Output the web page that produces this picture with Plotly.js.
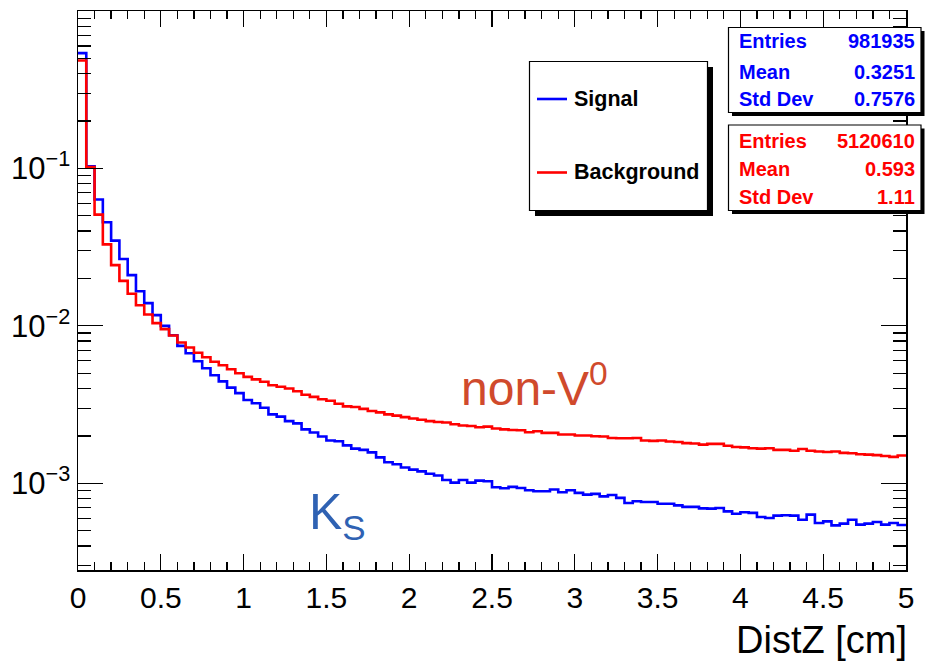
<!DOCTYPE html>
<html>
<head>
<meta charset="utf-8">
<script src="https://cdn.plot.ly/plotly-3.0.1.min.js"></script>
<style>
  html, body { margin: 0; padding: 0; background: #ffffff; }
  #plot { width: 934px; height: 666px; }
</style>
</head>
<body>
<div id="plot"></div>
<script>
// DistZ histograms: 100 bins from 0 to 5 cm, normalised entries per bin
const nBins = 100;
const xMin = 0;
const xMax = 5;

const signalCounts = [
  0.54, 0.103, 0.0635, 0.0455, 0.0348, 0.0266, 0.0210, 0.0166, 0.01395, 0.0117,
  0.0100, 0.00872, 0.00746, 0.00670, 0.00596, 0.00538, 0.00485, 0.00444, 0.00405, 0.00374,
  0.00338, 0.00322, 0.00302, 0.00274, 0.00265, 0.00248, 0.00240, 0.00220, 0.00210, 0.00198,
  0.00187, 0.00185, 0.00174, 0.00166, 0.00163, 0.00157, 0.00146, 0.00136, 0.00132, 0.00126,
  0.00122, 0.00119, 0.00115, 0.00112, 0.00105, 0.00101, 0.00105, 0.00101, 0.00104, 0.00103,
  0.000943, 0.000929, 0.000948, 0.000934, 0.000902, 0.000889, 0.000889, 0.000912, 0.000876, 0.000902,
  0.000869, 0.000847, 0.000856, 0.000826, 0.000843, 0.000807, 0.000750, 0.000768, 0.000761, 0.000761,
  0.000741, 0.000741, 0.000724, 0.000708, 0.000708, 0.000693, 0.000690, 0.000697, 0.000663, 0.000640,
  0.000654, 0.000648, 0.000611, 0.000602, 0.000623, 0.000627, 0.000623, 0.000587, 0.000632, 0.000559,
  0.000573, 0.000540, 0.000554, 0.000587, 0.000546, 0.000554, 0.000568, 0.000546, 0.000559, 0.000543
];

const backgroundCounts = [
  0.485, 0.102, 0.0509, 0.0329, 0.0243, 0.0193, 0.0160, 0.0135, 0.0118, 0.0104,
  0.00953, 0.00869, 0.00784, 0.00729, 0.00675, 0.00632, 0.00592, 0.00562, 0.00530, 0.00500,
  0.00474, 0.00457, 0.00441, 0.00419, 0.00410, 0.00400, 0.00384, 0.00365, 0.00354, 0.00342,
  0.00334, 0.00320, 0.00308, 0.00305, 0.00297, 0.00288, 0.00282, 0.00274, 0.00269, 0.00263,
  0.00258, 0.00253, 0.00248, 0.00245, 0.00243, 0.00237, 0.00233, 0.00231, 0.00227, 0.00229,
  0.00223, 0.00220, 0.00218, 0.00217, 0.00211, 0.00214, 0.00209, 0.00209, 0.00204, 0.00204,
  0.00201, 0.00201, 0.00199, 0.00198, 0.00194, 0.00193, 0.00193, 0.00194, 0.00187, 0.00186,
  0.00187, 0.00184, 0.00183, 0.00180, 0.00179, 0.00176, 0.00178, 0.00178, 0.00173, 0.00170,
  0.00169, 0.00167, 0.00166, 0.00167, 0.00163, 0.00163, 0.00161, 0.00165, 0.00161, 0.00159,
  0.00158, 0.00159, 0.00156, 0.00155, 0.00153, 0.00152, 0.00151, 0.00149, 0.00147, 0.00150
];

const seriesNames = ['Signal', 'Background'];
const statLabels = ['Entries', 'Mean', 'Std Dev'];
const signalStats = ['981935', '0.3251', '0.7576'];
const backgroundStats = ['5120610', '0.593', '1.11'];

const yTickVals = [1e-1, 1e-2, 1e-3];
const yTickText = ['10<sup>\u22121</sup>', '10<sup>\u22122</sup>', '10<sup>\u22123</sup>'];
const xTitle = 'DistZ [cm]';
const bkgTag = 'non-V<sup>0</sup>';
const sigTag = 'K<sub>S</sub>';

// bin edges and step outline (last value repeated to close the final bin)
const binWidth = (xMax - xMin) / nBins;
const edges = [];
for (let i = 0; i <= nBins; i++) edges.push(+(xMin + i * binWidth).toFixed(4));
const stepY = arr => arr.concat([arr[arr.length - 1]]);

// minor tick positions on the log axis
const yMinorVals = [];
for (let e = -4; e <= -1; e++) {
  for (let m = 2; m <= 9; m++) yMinorVals.push(m * Math.pow(10, e));
}

// frame geometry in pixels, used to place boxes in paper coordinates
const W = 934, H = 666;
const M = { l: 78, r: 28, t: 11, b: 96 };
const pw = W - M.l - M.r, ph = H - M.t - M.b;
const px = x => (x - M.l) / pw;
const py = y => (H - M.b - y) / ph;

const BLUE = '#0000ff';
const RED = '#ff0000';
const FONT = 'Liberation Sans, Arial, Helvetica, sans-serif';

const traces = [
  {
    x: edges, y: stepY(signalCounts), type: 'scatter', mode: 'lines',
    name: seriesNames[0], line: { color: BLUE, width: 2.6, shape: 'hv' },
    hoverinfo: 'skip'
  },
  {
    x: edges, y: stepY(backgroundCounts), type: 'scatter', mode: 'lines',
    name: seriesNames[1], line: { color: RED, width: 2.6, shape: 'hv' },
    hoverinfo: 'skip'
  }
];

const shapes = [];
const annotations = [];

function box(x0, y0, x1, y1, sh) {
  shapes.push({ type: 'rect', xref: 'paper', yref: 'paper', layer: 'above',
    x0: px(x0 + sh), x1: px(x1 + sh), y0: py(y0 + sh), y1: py(y1 + sh),
    fillcolor: '#000000', line: { width: 0 } });
  shapes.push({ type: 'rect', xref: 'paper', yref: 'paper', layer: 'above',
    x0: px(x0), x1: px(x1), y0: py(y0), y1: py(y1),
    fillcolor: '#ffffff', line: { color: '#000000', width: 1.2 } });
}

// legend box
box(529.5, 61.5, 707.5, 210.5, 5.5);
const legendRows = [ { y: 99, color: BLUE }, { y: 172.5, color: RED } ];
legendRows.forEach((r, i) => {
  shapes.push({ type: 'line', xref: 'paper', yref: 'paper', layer: 'above',
    x0: px(537), x1: px(567), y0: py(r.y), y1: py(r.y),
    line: { color: r.color, width: 2.6 } });
  annotations.push({ xref: 'paper', yref: 'paper', x: px(572), y: py(r.y),
    xanchor: 'left', yanchor: 'middle', showarrow: false,
    text: '<b>' + seriesNames[i] + '</b>',
    font: { family: FONT, size: 21.5, color: '#000000' } });
});

// statistics boxes
const statBoxes = [
  { top: 27.5, bottom: 112.5, rows: [41.5, 71.5, 99], vals: signalStats, color: BLUE },
  { top: 125, bottom: 210.5, rows: [140.5, 168.5, 196.5], vals: backgroundStats, color: RED }
];
statBoxes.forEach(b => {
  box(728.5, b.top, 921, b.bottom, 3.5);
  b.rows.forEach((ry, i) => {
    annotations.push({ xref: 'paper', yref: 'paper', x: px(737), y: py(ry),
      xanchor: 'left', yanchor: 'middle', showarrow: false,
      text: '<b>' + statLabels[i] + '</b>',
      font: { family: FONT, size: 20, color: b.color } });
    annotations.push({ xref: 'paper', yref: 'paper', x: px(917), y: py(ry),
      xanchor: 'right', yanchor: 'middle', showarrow: false,
      text: '<b>' + b.vals[i] + '</b>',
      font: { family: FONT, size: 20, color: b.color } });
  });
});

// curve tags
annotations.push({ xref: 'paper', yref: 'paper', x: px(459), y: py(385),
  xanchor: 'left', yanchor: 'middle', showarrow: false, text: bkgTag,
  font: { family: FONT, size: 48, color: '#d04a2c' } });
annotations.push({ xref: 'paper', yref: 'paper', x: px(307), y: py(515),
  xanchor: 'left', yanchor: 'middle', showarrow: false, text: sigTag,
  font: { family: FONT, size: 50, color: '#2f62b3' } });

// axis title, right-aligned under the frame
annotations.push({ xref: 'paper', yref: 'paper', x: px(909), y: py(640),
  xanchor: 'right', yanchor: 'middle', showarrow: false, text: xTitle,
  font: { family: FONT, size: 38, color: '#000000' } });

const layout = {
  width: W, height: H,
  margin: M,
  paper_bgcolor: '#ffffff', plot_bgcolor: '#ffffff',
  showlegend: false,
  font: { family: FONT, color: '#000000' },
  xaxis: {
    range: [xMin, xMax], tick0: 0, dtick: 0.5,
    ticks: 'inside', ticklen: 16, tickwidth: 1.3, tickcolor: '#000000',
    showline: true, linecolor: '#000000', linewidth: 1.5, mirror: 'ticks',
    showgrid: false, zeroline: false,
    tickfont: { family: FONT, size: 30, color: '#000000' },
    ticklabelstandoff: 0,
    minor: { ticks: 'inside', ticklen: 8, tickwidth: 1.3, tickcolor: '#000000', dtick: 0.1, tick0: 0, showgrid: false }
  },
  yaxis: {
    type: 'log', range: [-3.551, 0],
    tickmode: 'array', tickvals: yTickVals, ticktext: yTickText,
    ticks: 'inside', ticklen: 25, tickwidth: 1.3, tickcolor: '#000000',
    showline: true, linecolor: '#000000', linewidth: 1.5, mirror: 'ticks',
    showgrid: false, zeroline: false,
    tickfont: { family: FONT, size: 31, color: '#000000' },
    ticklabelstandoff: 0,
    minor: { tickmode: 'array', tickvals: yMinorVals, ticks: 'inside', ticklen: 13, tickwidth: 1.3, tickcolor: '#000000', showgrid: false }
  },
  shapes: shapes,
  annotations: annotations
};

Plotly.newPlot('plot', traces, layout, { displayModeBar: false, staticPlot: true });
</script>
</body>
</html>
